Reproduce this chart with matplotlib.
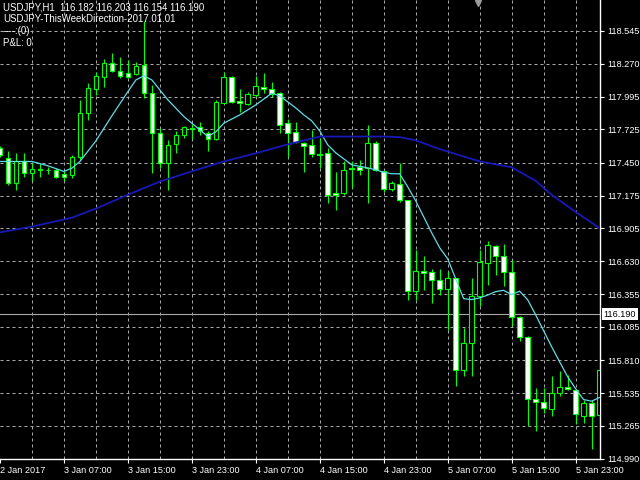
import matplotlib
matplotlib.use("Agg")
import matplotlib.pyplot as plt
import matplotlib.transforms as mtransforms

# USDJPY H1 bars, 2 Jan 23:00 .. 6 Jan 02:00
opens = [117.570, 117.487, 117.280, 117.459, 117.363, 117.390, 117.384, 117.390, 117.354, 117.348,
         117.495, 117.860, 118.059, 118.161, 118.275, 118.211, 118.192, 118.186, 118.261, 118.031,
         117.694, 117.445, 117.606, 117.680, 117.738, 117.744, 117.694, 117.645, 117.948, 118.164,
         117.962, 117.937, 118.012, 118.081, 118.059, 118.026, 117.777, 117.703, 117.611, 117.597,
         117.520, 117.528, 117.197, 117.197, 117.404, 117.409, 117.404, 117.611, 117.376, 117.232,
         117.274, 117.135, 116.380, 116.552, 116.538, 116.472, 116.400, 116.492, 115.731, 115.952,
         116.339, 116.616, 116.754, 116.671, 116.538, 116.168, 116.002, 115.488, 115.460, 115.405,
         115.538, 115.587, 115.565, 115.344, 115.449, 115.352]
highs = [117.589, 117.542, 117.533, 117.533, 117.445, 117.445, 117.417, 117.404, 117.376, 117.514,
         117.971, 118.109, 118.205, 118.311, 118.358, 118.325, 118.302, 118.288, 118.628, 118.095,
         117.736, 117.639, 117.708, 117.755, 117.771, 117.790, 117.708, 117.971, 118.205, 118.170,
         118.059, 118.039, 118.170, 118.197, 118.122, 118.039, 117.813, 117.790, 117.622, 117.722,
         117.653, 117.570, 117.371, 117.459, 117.459, 117.473, 117.763, 117.625, 117.390, 117.293,
         117.445, 117.141, 116.726, 116.671, 116.566, 116.566, 116.546, 116.494, 116.077, 116.492,
         116.720, 116.795, 116.768, 116.776, 116.638, 116.179, 116.007, 115.579, 115.579, 115.681,
         115.717, 115.689, 115.571, 115.476, 115.476, 115.772]
lows = [117.498, 117.265, 117.224, 117.334, 117.293, 117.334, 117.357, 117.321, 117.293, 117.321,
        117.473, 117.805, 118.012, 118.081, 118.205, 118.150, 118.150, 118.176, 117.985, 117.363,
        117.404, 117.224, 117.528, 117.653, 117.647, 117.680, 117.542, 117.639, 117.943, 117.943,
        117.873, 117.929, 117.998, 118.026, 117.998, 117.694, 117.500, 117.611, 117.369, 117.500,
        117.404, 117.114, 117.058, 117.183, 117.238, 117.348, 117.114, 117.376, 117.207, 117.210,
        117.120, 116.306, 116.312, 116.394, 116.284, 116.353, 116.063, 115.592, 115.675, 115.675,
        116.256, 116.436, 116.519, 116.422, 116.090, 115.966, 115.261, 115.219, 115.372, 115.344,
        115.509, 115.565, 115.275, 115.289, 115.073, 115.247]
closes = [117.514, 117.280, 117.459, 117.363, 117.396, 117.394, 117.388, 117.334, 117.329, 117.500,
          117.860, 118.068, 118.170, 118.277, 118.214, 118.170, 118.164, 118.253, 118.026, 117.694,
          117.445, 117.597, 117.680, 117.744, 117.730, 117.708, 117.645, 117.956, 118.164, 117.956,
          117.943, 118.020, 118.087, 118.059, 118.020, 117.763, 117.694, 117.620, 117.585, 117.520,
          117.516, 117.183, 117.180, 117.390, 117.400, 117.390, 117.611, 117.390, 117.232, 117.280,
          117.141, 116.385, 116.546, 116.533, 116.477, 116.400, 116.492, 115.731, 115.952, 116.339,
          116.624, 116.768, 116.677, 116.538, 116.168, 116.002, 115.488, 115.460, 115.413, 115.538,
          115.587, 115.571, 115.358, 115.449, 115.349, 115.731]

# fast moving average (cyan), read at these bar indices
fast_bars = [0, 2, 4, 6, 8, 9, 10, 12, 14, 16, 17, 18, 19, 20, 21, 23, 25, 26, 27, 28,
             30, 32, 34, 35, 37, 38, 39, 40, 41, 42, 43, 44, 46, 47, 48, 49, 50, 51, 52, 53,
             54, 55, 56, 57, 58, 59, 60, 61, 62, 63, 64, 65, 66, 67, 68, 69, 70, 71, 72, 73,
             74, 75]
fast_ma = [117.459, 117.459, 117.459, 117.423, 117.376, 117.404, 117.459, 117.630, 117.838, 118.039,
           118.136, 118.170, 118.136, 118.053, 117.971, 117.832, 117.722, 117.666, 117.705, 117.777,
           117.846, 117.929, 118.026, 118.004, 117.904, 117.846, 117.796, 117.713, 117.597, 117.531,
           117.481, 117.431, 117.406, 117.390, 117.369, 117.357, 117.357, 117.249, 117.133, 117.000,
           116.867, 116.743, 116.652, 116.486, 116.320, 116.312, 116.326, 116.349, 116.378, 116.389,
           116.353, 116.382, 116.312, 116.187, 116.054, 115.922, 115.797, 115.673, 115.573, 115.482,
           115.468, 115.499]

# slow moving average (blue)
slow_bars = [0, 4, 9, 12, 16, 20, 24, 28, 32, 36, 40, 44, 48, 50, 52, 55, 60, 64, 67, 69, 72, 75]
slow_ma = [116.870, 116.918, 116.992, 117.068, 117.183, 117.292, 117.377, 117.459, 117.527, 117.601,
           117.666, 117.666, 117.666, 117.661, 117.635, 117.562, 117.460, 117.411, 117.299, 117.183,
           117.041, 116.906]

time_tick_bars = [0, 8, 16, 24, 32, 40, 48, 56, 64, 72]
time_labels = ["2 Jan 2017", "3 Jan 07:00", "3 Jan 15:00", "3 Jan 23:00", "4 Jan 07:00",
               "4 Jan 15:00", "4 Jan 23:00", "5 Jan 07:00", "5 Jan 15:00", "5 Jan 23:00"]
price_labels = ["118.545", "118.270", "117.995", "117.725", "117.450", "117.175", "116.905",
                "116.630", "116.355", "116.085", "115.810", "115.535", "115.265", "114.990"]

bid = 116.190
shift_bar = 59.85
header = ["USDJPY,H1  116.182 116.203 116.154 116.190",
          "USDJPY-ThisWeekDirection-2017.01.01",
          "----:(0)",
          "P&L: 0"]

plt.rcParams['font.family'] = ['Liberation Sans', 'DejaVu Sans']
fig = plt.figure(figsize=(6.4, 4.8), dpi=100, facecolor="black")
ax = fig.add_axes([0, 21 / 480, 600 / 640, 459 / 480], facecolor="black")

green = "#00ff00"
bars = list(range(len(opens)))
for i in bars:
    ax.vlines(i, lows[i], highs[i], color=green, linewidth=0.8, zorder=3)
body_low = [min(o, c) for o, c in zip(opens, closes)]
body_h = [abs(c - o) for o, c in zip(opens, closes)]
faces = ["white" if c < o else "black" for o, c in zip(opens, closes)]
ax.bar(bars, body_h, bottom=body_low, width=0.58, color=faces, edgecolor=green,
       linewidth=0.8, zorder=4)

ax.plot(fast_bars, fast_ma, color="#5fdde8", linewidth=0.9, zorder=5)
ax.plot(slow_bars, slow_ma, color="#1818b8", linewidth=1.3, zorder=5)

ax.axhline(bid, color="#a8a8a8", linewidth=0.8, zorder=2)

ax.set_xlim(0.0625, 75.0625)
ax.set_ylim(114.988, 118.800)

grid_kw = dict(color="#a8a8a8", linewidth=0.72, linestyle=(0, (3, 3)), zorder=1)
for b in range(4, 76, 4):
    ax.axvline(b, **grid_kw)
for p in price_labels:
    ax.axhline(float(p), **grid_kw)

ax.yaxis.tick_right()
ax.set_yticks([float(p) for p in price_labels])
ax.set_yticklabels(price_labels)
ax.set_xticks(time_tick_bars)
ax.set_xticklabels(time_labels, ha="left")
ax.tick_params(colors="white", labelcolor="white", labelsize=6.6, length=3, width=0.8)
ax.tick_params(axis="y", pad=2)
ax.tick_params(axis="x", pad=2)

for side in ["left", "top"]:
    ax.spines[side].set_visible(False)
for side in ["right", "bottom"]:
    ax.spines[side].set_color("white")
    ax.spines[side].set_linewidth(1.0)

trans = mtransforms.blended_transform_factory(ax.transAxes, ax.transData)
ax.text(1.006, bid, f"{bid:.3f}", transform=trans, ha="left", va="center", fontsize=6.6,
        color="black", bbox=dict(facecolor="white", edgecolor="none", pad=1.2), clip_on=False)

ax.plot([shift_bar], [118.775], marker="v", color="#9a9a9a", markersize=5, clip_on=False, zorder=6)

for line, ypix in zip(header, [7, 19.5, 31.5, 43]):
    fig.text(3 / 640, 1 - ypix / 480, line, color="white", fontsize=6.9, va="center", ha="left")

fig.savefig("out.png", dpi=100, facecolor="black")
